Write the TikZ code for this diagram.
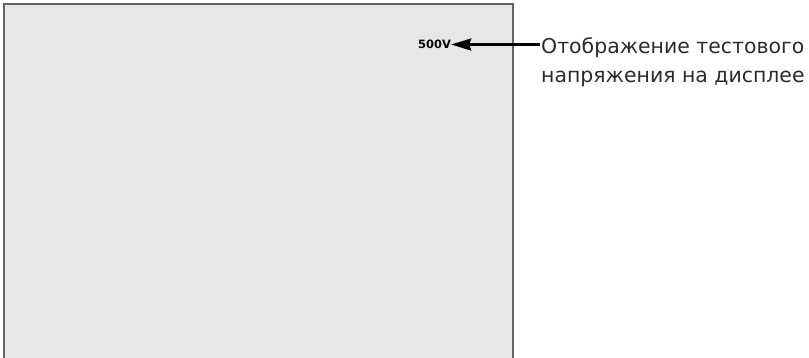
\documentclass[tikz,border=0pt]{standalone}
\usepackage{fontspec}
\setmainfont{DejaVu Sans}
\usetikzlibrary{arrows.meta}
\definecolor{panelfill}{HTML}{E6E7E8}
\definecolor{panelline}{HTML}{626366}
\definecolor{txt}{HTML}{2B2B2B}
\begin{document}
\begin{tikzpicture}[x=1bp,y=-1bp,
  valtext/.style={font=\bfseries\fontsize{11.5}{13}\selectfont, text=black, inner sep=0pt, anchor=west},
  calltext/.style={font=\fontsize{20.5}{29}\selectfont, text=txt, inner sep=0pt, anchor=base west, align=left},
  callarrow/.style={draw=black, line width=2.5bp, -{Stealth[length=20bp,width=12bp,inset=2bp]}}]
\useasboundingbox (0,0) rectangle (809,357);
\path[fill=panelfill, draw=panelline, line width=2.5bp] (4,361) -- (4,4) -- (513,4) -- (513,361);
\node[valtext] (val) at (418,44.5) {500V};
\node[calltext] (lab) at (541,82) {Отображение тестового\\напряжения на дисплее};
\coordinate (start) at (540,44.5);
\draw[callarrow] (start) -- (val.east);
\end{tikzpicture}
\end{document}
